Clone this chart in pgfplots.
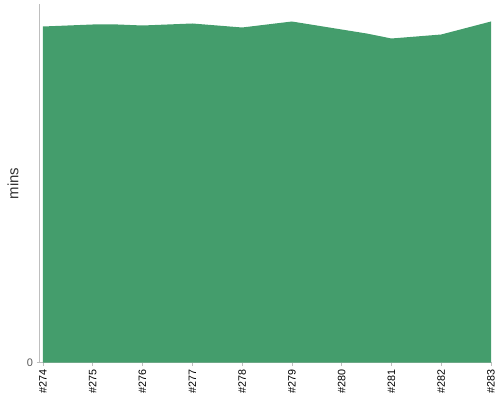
\documentclass[border=0pt]{standalone}
\usepackage{fontspec}
\setmainfont{Liberation Sans}
\usepackage{pgfplots}
\pgfplotsset{compat=1.18}
\definecolor{areagreen}{RGB}{68,157,108}
\definecolor{axgray}{RGB}{190,190,190}
\begin{document}
\begin{tikzpicture}
\path[use as bounding box] (0bp,0bp) rectangle (500bp,400bp);
\begin{axis}[
  at={(39.5bp,37.5bp)}, anchor=south west,
  scale only axis, width=452.5bp, height=358bp,
  xmin=-0.07, xmax=9.02, ymin=0, ymax=358,
  axis lines*=left,
  axis line style={axgray, line width=0.8pt},
  tick style={axgray, line width=0.6pt},
  tick align=outside, major tick length=3bp,
  xtick={0,...,9},
  xticklabels={\#274,\#275,\#276,\#277,\#278,\#279,\#280,\#281,\#282,\#283},
  xticklabel style={rotate=90, anchor=east, font=\fontsize{10.8}{12}\selectfont, text=black, inner xsep=4bp},
  ytick={0},
  yticklabel style={font=\fontsize{11}{12}\selectfont, text=black!65},
  /pgf/number format/assume math mode=true,
  ylabel={mins},
  ylabel style={at={(axis description cs:-0.0586,0.5)}, anchor=center, rotate=0, font=\fontsize{15}{17}\selectfont, text=black!80},
  clip=false,
]
\addplot[fill=areagreen, draw=none] coordinates {
(0,336) (1,338) (1.5,338) (2,337) (3,339) (4,335) (5,341) (6,333) (6.5,329) (7,324) (8,328) (9,341)
} \closedcycle;
\end{axis}
\end{tikzpicture}
\end{document}
